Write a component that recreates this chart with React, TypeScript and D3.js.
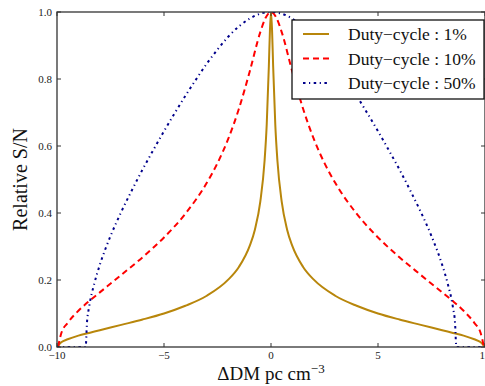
import React from 'react';
import * as d3 from 'd3';

// Duty-cycle 1%
const dc1X = [-10, -9.8, -9.5, -9, -8.5, -8, -7, -6, -5, -4, -3, -2, -1.5, -1, -0.75, -0.5, -0.3, -0.2, -0.1, -0.05, 0,
  0.05, 0.1, 0.2, 0.3, 0.5, 0.75, 1, 1.5, 2, 3, 4, 5, 6, 7, 8, 8.5, 9, 9.5, 9.8, 10];
const dc1Y = [0, 0.014, 0.023, 0.034, 0.042, 0.05, 0.066, 0.082, 0.1, 0.123, 0.153, 0.201, 0.239, 0.301, 0.351, 0.434, 0.556, 0.664, 0.839, 0.945, 1.0,
  0.945, 0.839, 0.664, 0.556, 0.434, 0.351, 0.301, 0.239, 0.201, 0.153, 0.123, 0.1, 0.082, 0.066, 0.05, 0.042, 0.034, 0.023, 0.014, 0];

// Duty-cycle 10%
const dc10X = [-9.95, -9.8, -9.5, -9, -8.5, -8, -7, -6, -5, -4, -3, -2.5, -2, -1.5, -1, -0.5, -0.25, 0,
  0.25, 0.5, 1, 1.5, 2, 2.5, 3, 4, 5, 6, 7, 8, 8.5, 9, 9.5, 9.8, 9.95];
const dc10Y = [0, 0.041, 0.072, 0.108, 0.137, 0.163, 0.215, 0.268, 0.327, 0.398, 0.49, 0.549, 0.621, 0.711, 0.821, 0.94, 0.983, 1.0,
  0.983, 0.94, 0.821, 0.711, 0.621, 0.549, 0.49, 0.398, 0.327, 0.268, 0.215, 0.163, 0.137, 0.108, 0.072, 0.041, 0];

// Duty-cycle 50%
const dc50X = [-10, -8.66, -8.6, -8.5, -8.25, -8, -7.5, -7, -6.5, -6, -5.5, -5, -4.5, -4, -3.5, -3, -2.5, -2, -1.5, -1, -0.5, 0,
  0.5, 1, 1.5, 2, 2.5, 3, 3.5, 4, 4.5, 5, 5.5, 6, 6.5, 7, 7.5, 8, 8.25, 8.5, 8.6, 8.66, 10];
const dc50Y = [0, 0, 0.072, 0.119, 0.191, 0.245, 0.331, 0.403, 0.468, 0.53, 0.588, 0.644, 0.698, 0.75, 0.799, 0.846, 0.888, 0.926, 0.957, 0.98, 0.995, 1.0,
  0.995, 0.98, 0.957, 0.926, 0.888, 0.846, 0.799, 0.75, 0.698, 0.644, 0.588, 0.53, 0.468, 0.403, 0.331, 0.245, 0.191, 0.119, 0.072, 0, 0];

const seriesNames = ['Duty\u2212cycle : 1%', 'Duty\u2212cycle : 10%', 'Duty\u2212cycle : 50%'];
const xTicks = [-10, -5, 0, 5, 10];
const yTicks = [0, 0.2, 0.4, 0.6, 0.8, 1.0];

const W = 485, H = 386;
const L = 57, R = 485, T = 12, B = 347;

export default function App() {
  const x = d3.scaleLinear().domain([-10, 10]).range([L, R]);
  const y = d3.scaleLinear().domain([0, 1]).range([B, T]);
  const line = d3.line<[number, number]>().x(d => x(d[0])).y(d => y(d[1])).curve(d3.curveMonotoneX);
  const zip = (a: number[], b: number[]) => a.map((v, i) => [v, b[i]] as [number, number]);

  const series = [
    { pts: zip(dc1X, dc1Y), color: '#B8860B', dash: undefined as string | undefined, w: 2 },
    { pts: zip(dc10X, dc10Y), color: '#FF0000', dash: '6,4', w: 2 },
    { pts: zip(dc50X, dc50Y), color: '#00008B', dash: '2.5,3.5,1.2,3.5', w: 2 },
  ];
  const fmtX = (v: number) => (v < 0 ? '\u2212' + Math.abs(v) : String(v));
  const font = '"Liberation Serif", "Times New Roman", serif';
  const spine = '#333';

  return (
    <svg width={W} height={H} style={{ position: 'absolute', left: 0, top: 0, background: '#fff' }} fontFamily={font}>
      <defs>
        <clipPath id="plot">
          <rect x={L} y={T} width={R - L} height={B - T} />
        </clipPath>
      </defs>
      <rect x={0} y={0} width={W} height={H} fill="#fff" />
      <g clipPath="url(#plot)">
        {series.map((s, i) => (
          <path key={i} d={line(s.pts) || ''} fill="none" stroke={s.color} strokeWidth={s.w}
            strokeDasharray={s.dash} strokeLinejoin="round" />
        ))}
      </g>
      {/* spines */}
      <rect x={L} y={T} width={R - L} height={B - T} fill="none" stroke={spine} strokeWidth={1.3} />
      {/* ticks */}
      {xTicks.map(t => (
        <g key={'x' + t}>
          <line x1={x(t)} x2={x(t)} y1={B} y2={B - 4} stroke={spine} strokeWidth={1} />
          <line x1={x(t)} x2={x(t)} y1={T} y2={T + 4} stroke={spine} strokeWidth={1} />
          <text x={x(t)} y={359} textAnchor="middle" fontSize={11} fill="#222">{fmtX(t)}</text>
        </g>
      ))}
      {yTicks.map(t => (
        <g key={'y' + t}>
          <line x1={L} x2={L + 4} y1={y(t)} y2={y(t)} stroke={spine} strokeWidth={1} />
          <line x1={R} x2={R - 4} y1={y(t)} y2={y(t)} stroke={spine} strokeWidth={1} />
          <text x={52} y={y(t) + 4} textAnchor="end" fontSize={11} fill="#222">{t.toFixed(1)}</text>
        </g>
      ))}
      {/* axis labels */}
      <text x={271} y={380} textAnchor="middle" fontSize={19} fill="#111">
        {'\u0394DM pc cm'}<tspan dy={-7} fontSize={13}>{'\u22123'}</tspan>
      </text>
      <text transform={`translate(27,${(T + B) / 2}) rotate(-90)`} textAnchor="middle" fontSize={20} fill="#111">Relative S/N</text>
      {/* legend */}
      <rect x={292} y={20} width={192} height={79} fill="#fff" stroke="#111" strokeWidth={1.3} />
      {series.map((s, i) => {
        const ly = 34 + i * 24.5;
        return (
          <g key={'l' + i}>
            <line x1={303} x2={329} y1={ly} y2={ly} stroke={s.color} strokeWidth={s.w} strokeDasharray={s.dash} />
            <text x={348} y={ly + 6} fontSize={17.5} fill="#111">{seriesNames[i]}</text>
          </g>
        );
      })}
    </svg>
  );
}
